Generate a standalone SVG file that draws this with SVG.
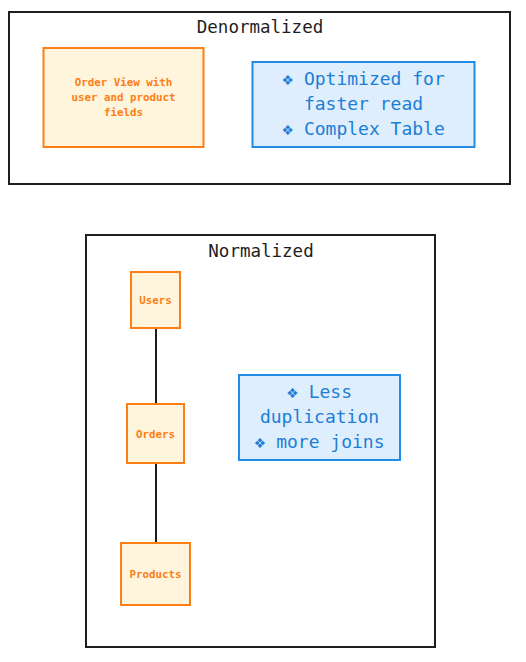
<svg xmlns="http://www.w3.org/2000/svg" width="526" height="662" viewBox="0 0 526 662">
<style>
.frame{fill:#ffffff;stroke:#1e1e1e;stroke-width:2}
.title{font-family:"DejaVu Sans Mono","Liberation Mono",monospace;font-size:17.5px;fill:#1e1e1e;text-anchor:middle}
.ent{fill:#fff5dc;stroke:#fd7e14;stroke-width:2}
.entt{font-family:"DejaVu Sans Mono","Liberation Mono",monospace;font-size:10.8px;font-weight:bold;fill:#fd7e14;text-anchor:middle}
.note{fill:#dfeefc;stroke:#228be6;stroke-width:2}
.notet{font-family:"DejaVu Sans Mono","Liberation Mono",monospace;font-size:18px;fill:#1c7ed6;text-anchor:middle}
.conn{stroke:#1e1e1e;stroke-width:2;fill:none}
</style>
<rect width="526" height="662" fill="#ffffff"/>
<g id="denormalized">
<rect class="frame" x="9" y="12" width="501" height="172"/>
<text class="title" x="260" y="33">Denormalized</text>
</g>
<g id="order-view">
<rect class="ent" x="43.5" y="48" width="160" height="99"/>
<text class="entt" x="123.5" y="86">Order View with</text>
<text class="entt" x="123.5" y="101">user and product</text>
<text class="entt" x="123.5" y="116">fields</text>
</g>
<g id="note-denorm">
<rect class="note" x="252.5" y="62" width="222" height="85"/>
<text class="notet" x="363.5" y="85">❖ Optimized for</text>
<text class="notet" x="363.5" y="110">faster read</text>
<text class="notet" x="363.5" y="135">❖ Complex Table</text>
</g>
<g id="normalized">
<rect class="frame" x="86" y="235" width="349" height="412"/>
<text class="title" x="261" y="257">Normalized</text>
</g>
<g id="connectors">
<line class="conn" x1="156" y1="329" x2="156" y2="404"/>
<line class="conn" x1="156" y1="463" x2="156" y2="543"/>
</g>
<g id="users">
<rect class="ent" x="131" y="272" width="49" height="56"/>
<text class="entt" x="155.5" y="304">Users</text>
</g>
<g id="orders">
<rect class="ent" x="127" y="404" width="57" height="59"/>
<text class="entt" x="155.5" y="438">Orders</text>
</g>
<g id="products">
<rect class="ent" x="121" y="543" width="69" height="62"/>
<text class="entt" x="155.5" y="578">Products</text>
</g>
<g id="note-norm">
<rect class="note" x="239" y="375" width="161" height="85"/>
<text class="notet" x="319.5" y="398">❖ Less</text>
<text class="notet" x="319.5" y="423">duplication</text>
<text class="notet" x="319.5" y="448">❖ more joins</text>
</g>
</svg>
